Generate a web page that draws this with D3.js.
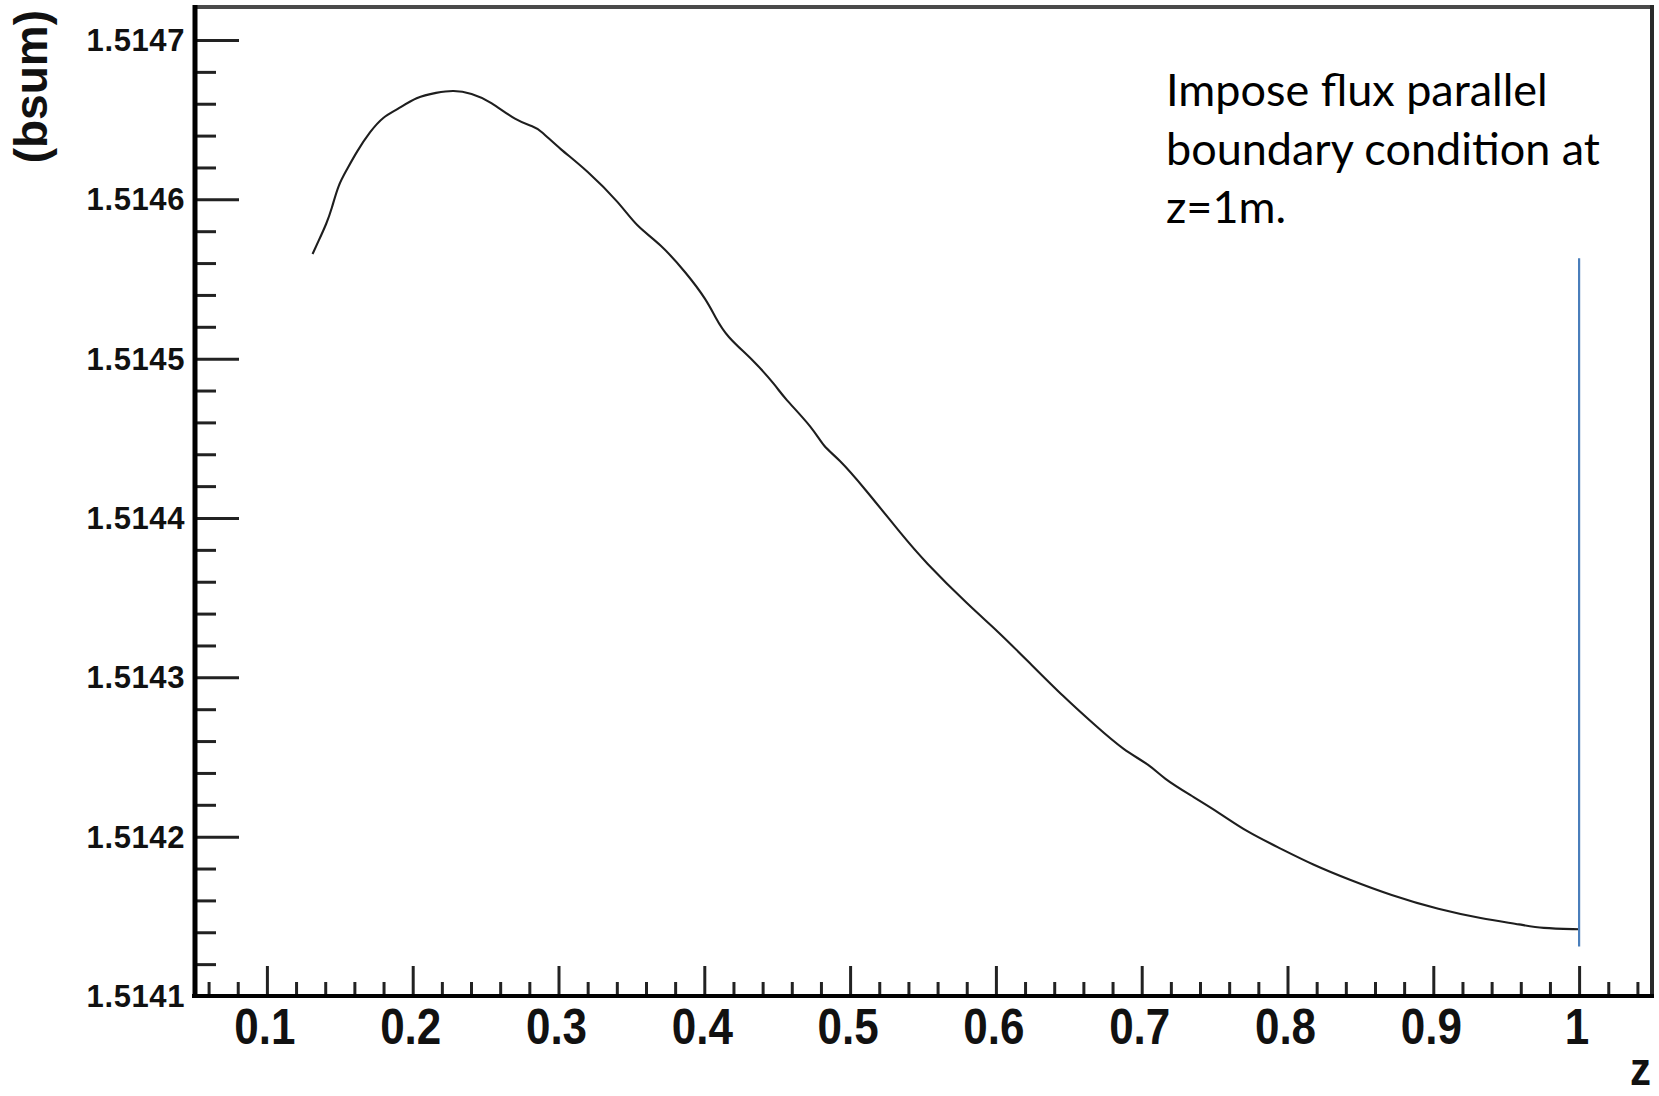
<!DOCTYPE html>
<html>
<head>
<meta charset="utf-8">
<script src="https://cdn.jsdelivr.net/npm/d3@7"></script>
<style>
  html, body { margin: 0; padding: 0; background: #fff; }
  svg { display: block; }
</style>
</head>
<body>
<svg id="chart" width="1659" height="1096"></svg>
<script>
// ---- data ----
const zValues = [0.1313, 0.1352, 0.1410, 0.1444, 0.1489, 0.1547, 0.1616, 0.1707, 0.1798, 0.1890,
  0.2027, 0.2164, 0.2278, 0.2404, 0.2530, 0.2713, 0.2827, 0.2873, 0.3010, 0.3193,
  0.3421, 0.3536, 0.3696, 0.3879, 0.4016, 0.4073, 0.4153, 0.4336, 0.4496, 0.4541,
  0.4747, 0.4816, 0.4919, 0.5090, 0.5365, 0.5502, 0.5822, 0.6005, 0.6234, 0.6462,
  0.6691, 0.6874, 0.7057, 0.7148, 0.7331, 0.7537, 0.7720, 0.7949, 0.8177, 0.8429,
  0.8703, 0.9046, 0.9321, 0.9618, 0.9733, 1.0000];
const bsumValues = [1.5145657, 1.5145734, 1.5145850, 1.5145938, 1.5146090, 1.5146184, 1.5146299, 1.5146425, 1.5146519, 1.5146561,
  1.5146644, 1.5146670, 1.5146686, 1.5146667, 1.5146617, 1.5146490, 1.5146459, 1.5146435, 1.5146316, 1.5146184,
  1.5145975, 1.5145828, 1.5145724, 1.5145536, 1.5145368, 1.5145264, 1.5145138, 1.5144992, 1.5144824, 1.5144761,
  1.5144563, 1.5144448, 1.5144375, 1.5144197, 1.5143883, 1.5143736, 1.5143443, 1.5143297, 1.5143088, 1.5142879,
  1.5142690, 1.5142544, 1.5142450, 1.5142366, 1.5142262, 1.5142147, 1.5142031, 1.5141927, 1.5141822, 1.5141728,
  1.5141634, 1.5141540, 1.5141488, 1.5141446, 1.5141425, 1.5141419];
const yMajorTicks = [1.5141, 1.5142, 1.5143, 1.5144, 1.5145, 1.5146, 1.5147];
const yTickLabels = ["1.5141", "1.5142", "1.5143", "1.5144", "1.5145", "1.5146", "1.5147"];
const xMajorTicks = [0.1, 0.2, 0.3, 0.4, 0.5, 0.6, 0.7, 0.8, 0.9, 1.0];
const xTickLabels = ["0.1", "0.2", "0.3", "0.4", "0.5", "0.6", "0.7", "0.8", "0.9", "1"];
const markerZ = 1.0;
const markerRange = [1.514131, 1.514563];
const xTitle = "z";
const yTitle = "(bsum)";
const noteLines = ["Impose flux parallel", "boundary condition at", "z=1m."];

(function () {
// ---- layout ----
const svg = d3.select("#chart");
const pLeft = 194, pRight = 1652, pTop = 7, pBottom = 996;
const x = d3.scaleLinear().domain([0.05, 1.05]).range([pLeft, pRight]);
const y = d3.scaleLinear().domain([1.5141, 1.5147]).range([pBottom, 40]);
const yTopVal = y.invert(pTop);

svg.append("rect").attr("width", 1659).attr("height", 1096).attr("fill", "#fff");

// minor ticks
const xMinor = d3.range(0, 51).map(i => +(0.06 + i * 0.02).toFixed(2)).filter(v => v < 1.05 && Math.abs(v * 10 - Math.round(v * 10)) > 1e-6);
const yMinor = d3.range(0, 31).map(i => +(1.5141 + i * 0.00002).toFixed(5)).filter(v => v <= yTopVal && Math.abs(v * 1e4 - Math.round(v * 1e4)) > 1e-4);

const gxMinor = svg.append("g").attr("transform", `translate(0,${pBottom})`)
  .call(d3.axisBottom(x).tickValues(xMinor).tickSize(-14).tickFormat(""));
const gxMajor = svg.append("g").attr("transform", `translate(0,${pBottom})`)
  .call(d3.axisBottom(x).tickValues(xMajorTicks).tickSize(-30).tickFormat(""));
const gyMinor = svg.append("g").attr("transform", `translate(${pLeft + 2},0)`)
  .call(d3.axisLeft(y).tickValues(yMinor).tickSize(-20).tickFormat(""));
const gyMajor = svg.append("g").attr("transform", `translate(${pLeft + 2},0)`)
  .call(d3.axisLeft(y).tickValues(yMajorTicks).tickSize(-43).tickFormat(""));
[gxMinor, gxMajor, gyMinor, gyMajor].forEach(g => {
  g.select(".domain").remove();
  g.selectAll(".tick line").attr("stroke", "#222").attr("stroke-width", 3);
});

// frame
svg.append("line").attr("x1", pLeft).attr("x2", pRight).attr("y1", pTop).attr("y2", pTop)
  .attr("stroke", "#4a4a4a").attr("stroke-width", 4);
svg.append("line").attr("x1", pRight).attr("x2", pRight).attr("y1", pTop - 2).attr("y2", pBottom + 2)
  .attr("stroke", "#2a2a2a").attr("stroke-width", 4);
svg.append("line").attr("x1", pLeft + 1).attr("x2", pLeft + 1).attr("y1", pTop - 2).attr("y2", pBottom + 2)
  .attr("stroke", "#000").attr("stroke-width", 5);
svg.append("line").attr("x1", pLeft - 2).attr("x2", pRight + 2).attr("y1", pBottom).attr("y2", pBottom)
  .attr("stroke", "#000").attr("stroke-width", 4);

// y labels
svg.append("g").selectAll("text").data(yMajorTicks).join("text")
  .attr("x", 185).attr("y", d => y(d))
  .attr("dy", "0.36em")
  .attr("text-anchor", "end")
  .attr("font-family", "'Liberation Sans', Arial, sans-serif")
  .attr("font-weight", "bold").attr("font-size", 31)
  .attr("letter-spacing", 0.6)
  .attr("fill", "#111")
  .text((d, i) => yTickLabels[i]);

// x labels
svg.append("g").selectAll("text").data(xMajorTicks).join("text")
  .attr("transform", d => `translate(${x(d) - 2},1044) scale(1,1.14)`)
  .attr("text-anchor", "middle")
  .attr("font-family", "'Liberation Sans', Arial, sans-serif")
  .attr("font-weight", "bold").attr("font-size", 44)
  .attr("fill", "#111")
  .text((d, i) => xTickLabels[i]);

// axis titles
svg.append("text")
  .attr("transform", `translate(1651,1085) scale(1,1.1)`)
  .attr("text-anchor", "end")
  .attr("font-family", "'Liberation Sans', Arial, sans-serif")
  .attr("font-weight", "bold").attr("font-size", 42)
  .attr("fill", "#111")
  .text(xTitle);
svg.append("text")
  .attr("transform", `translate(47,10) rotate(-90)`)
  .attr("text-anchor", "end")
  .attr("font-family", "'Liberation Sans', Arial, sans-serif")
  .attr("font-weight", "bold").attr("font-size", 46)
  .attr("fill", "#111")
  .text(yTitle);

// curve
const pts = zValues.map((z, i) => [z, bsumValues[i]]);
svg.append("path")
  .datum(pts)
  .attr("fill", "none")
  .attr("stroke", "#1e1e1e")
  .attr("stroke-width", 2.1)
  .attr("stroke-linejoin", "round")
  .attr("d", d3.line().x(d => x(d[0])).y(d => y(d[1])).curve(d3.curveBasis));

// blue marker line
svg.append("line")
  .attr("x1", x(markerZ)).attr("x2", x(markerZ))
  .attr("y1", y(markerRange[1])).attr("y2", y(markerRange[0]))
  .attr("stroke", "#4a7ebb").attr("stroke-width", 2.2);

// annotation
const note = svg.append("g");
const noteText = note.selectAll("text").data(noteLines).join("text")
  .attr("x", 1166).attr("y", (d, i) => 106 + i * 58.5)
  .attr("font-family", "Lato, 'Open Sans', sans-serif")
  .attr("font-size", 44)
  .attr("fill", "#000")
  .text(d => d);
const w = noteText.nodes()[1].getComputedTextLength();
const fs = 44 * 434 / w;
noteText.attr("font-size", fs);
})();
</script>
</body>
</html>
